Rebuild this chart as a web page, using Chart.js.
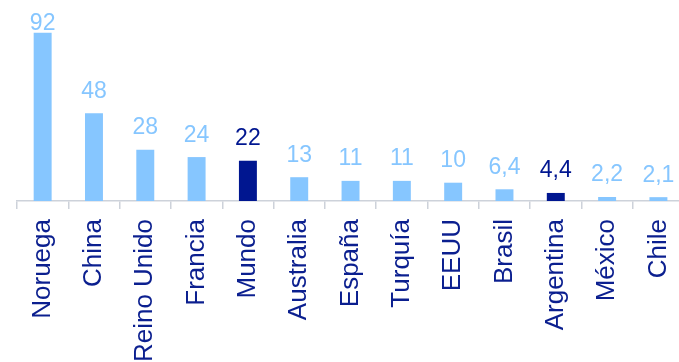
<!DOCTYPE html>
<html>
<head>
<meta charset="utf-8">
<script src="https://cdn.jsdelivr.net/npm/chart.js@4/dist/chart.umd.min.js"></script>
<style>
  html, body { margin: 0; padding: 0; background: #fff; overflow: hidden; }
  #wrap { width: 700px; height: 362px; }
</style>
</head>
<body>
<div id="wrap"><canvas id="chartCanvas"></canvas></div>
<script>
const paises = ['Noruega', 'China', 'Reino Unido', 'Francia', 'Mundo', 'Australia',
    'España', 'Turquía', 'EEUU', 'Brasil', 'Argentina', 'México', 'Chile'];
const valores = [92, 48, 28, 24, 22, 13, 11, 11, 10, 6.4, 4.4, 2.2, 2.1];
const destacados = ['Mundo', 'Argentina'];

const celeste = '#86c6ff';
const azul = '#001690';

const colores = paises.map(p => destacados.includes(p) ? azul : celeste);

// numbers over each bar, decimal comma; kept inside the top of the canvas
const etiquetas = {
    id: 'etiquetas',
    afterDatasetsDraw(chart) {
        const ctx = chart.ctx;
        const meta = chart.getDatasetMeta(0);
        ctx.save();
        ctx.font = '23px "Liberation Sans", Arial, sans-serif';
        ctx.textAlign = 'center';
        ctx.textBaseline = 'alphabetic';
        meta.data.forEach((bar, i) => {
            const y = Math.max(bar.y - 15.5, 29.5);
            ctx.fillStyle = colores[i];
            ctx.fillText(String(valores[i]).replace('.', ','), bar.x, y);
        });
        ctx.restore();
    }
};

const data = {
    labels: paises,
    datasets: [{
        data: valores,
        backgroundColor: colores,
        borderWidth: 0,
        barPercentage: 0.35,
        categoryPercentage: 1
    }]
};

const config = {
    type: 'bar',
    data: data,
    options: {
        responsive: true,
        maintainAspectRatio: false,
        animation: false,
        layout: { padding: { left: 17, right: 10, top: 18, bottom: 0 } },
        plugins: { legend: { display: false }, tooltip: { enabled: false } },
        scales: {
            x: {
                afterFit(scale) { scale.height = 161; },
                border: { color: '#cdd2da', width: 1.5 },
                grid: {
                    drawOnChartArea: false,
                    color: '#cdd2da',
                    lineWidth: 1.5,
                    tickLength: 8
                },
                ticks: {
                    minRotation: 90,
                    maxRotation: 90,
                    padding: 10,
                    color: '#0b1f8f',
                    font: { family: '"Liberation Sans", Arial, sans-serif', size: 26 }
                }
            },
            y: {
                display: false,
                min: 0,
                max: 100
            }
        }
    },
    plugins: [etiquetas]
};

let myChart = new Chart(document.getElementById('chartCanvas'), config);
</script>
</body>
</html>
